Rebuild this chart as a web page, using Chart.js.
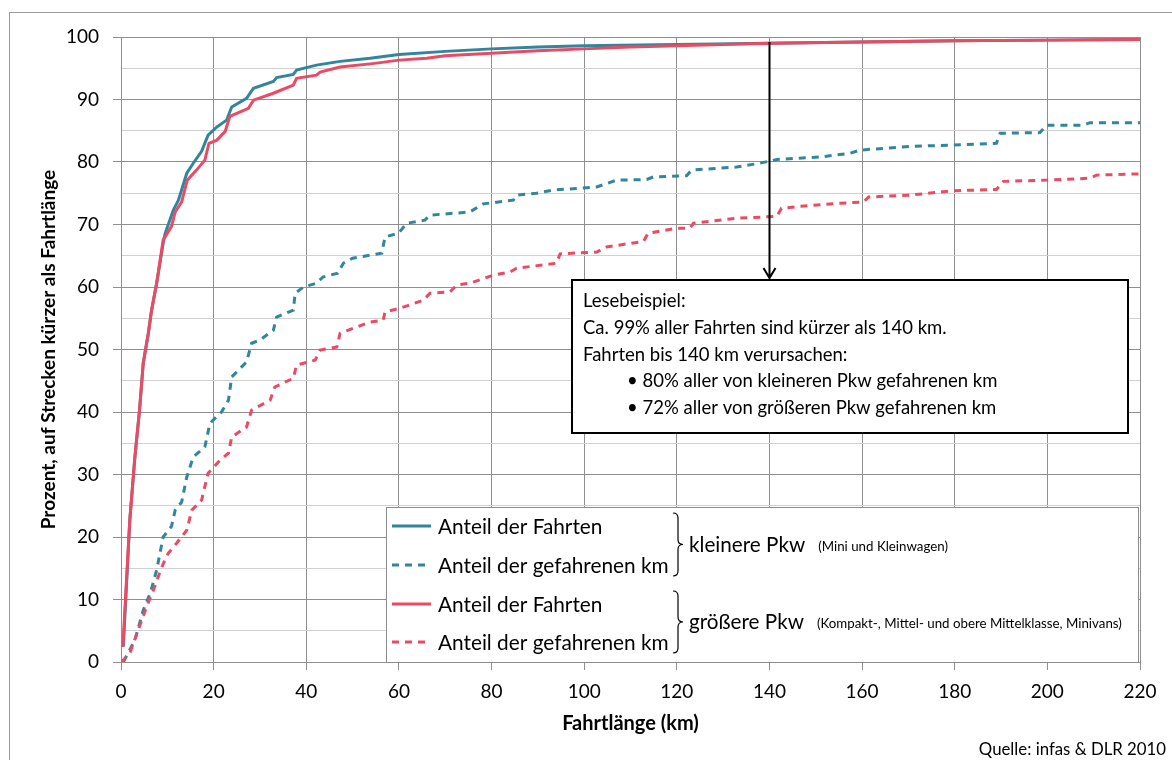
<!DOCTYPE html>
<html>
<head>
<meta charset="utf-8">
<script src="https://cdn.jsdelivr.net/npm/chart.js@4.4.0/dist/chart.umd.min.js"></script>
<style>
  body { margin: 0; background: #fff; }
  #wrap { width: 1172px; height: 760px; }
</style>
</head>
<body>
<div id="wrap"><canvas id="chart" width="1172" height="760"></canvas></div>
<script>
// Fahrtlänge (km) und kumulierter Anteil (%)
const kleinFahrtenX = [0.5, 1.9, 3.0, 4.0, 4.8, 5.9, 6.6, 7.7, 9.1, 9.5, 11.3, 12.4, 14.2, 15.6, 17.4, 18.8, 20.7, 22.8, 23.9, 27.1, 28.6, 32.9, 33.6, 37.2, 37.9, 42.2, 47.3, 53.8, 60, 70, 80, 90, 100, 120, 140, 160, 180, 200, 220];
const kleinFahrtenY = [2.5, 22.7, 32.8, 40.3, 47.8, 52.6, 56.3, 60.6, 67.0, 68.5, 72.3, 73.9, 78.2, 79.8, 81.7, 84.3, 85.6, 86.7, 88.8, 90.2, 91.8, 92.9, 93.5, 94.0, 94.7, 95.5, 96.1, 96.6, 97.2, 97.7, 98.1, 98.4, 98.6, 98.8, 99.0, 99.2, 99.4, 99.5, 99.6];

const kleinKmX = [0.5, 3, 4.8, 6.3, 7.7, 9.1, 10.9, 11.7, 13.1, 14.2, 15.6, 18.1, 19.2, 21.7, 23.2, 23.9, 27.1, 28.2, 30, 32.9, 33.6, 37.2, 37.6, 39.4, 42.2, 43.6, 46.8, 48, 50, 53.8, 56.3, 57, 59.9, 61.7, 65.6, 66.7, 75.3, 78.2, 84.7, 85.4, 89.7, 93.3, 102.7, 107, 113.5, 114.9, 122.1, 123.2, 132.9, 137.9, 141.6, 150.9, 157.4, 159.5, 170.3, 179.7, 189, 189.8, 198.4, 199.8, 207.8, 209.2, 220];
const kleinKmY = [0, 3.5, 8.3, 11, 14.7, 20, 21.7, 24.3, 25.6, 29.6, 32.8, 34.4, 38.2, 40, 41.9, 45.6, 48, 51, 51.5, 53.1, 55.2, 56.3, 59, 60, 60.6, 61.6, 62.2, 63.8, 64.6, 65.1, 65.4, 68, 68.6, 70.2, 70.7, 71.5, 72, 73.3, 73.9, 74.7, 75, 75.5, 76, 77.1, 77.2, 77.6, 77.8, 78.7, 79.2, 79.8, 80.4, 80.8, 81.4, 81.9, 82.5, 82.7, 83, 84.6, 84.7, 85.9, 85.9, 86.3, 86.3];

const grossFahrtenX = [0.4, 1.9, 3.0, 4.0, 4.8, 5.9, 6.6, 7.7, 9.1, 10.9, 11.7, 13.1, 14.3, 16.3, 18.1, 19.0, 20.7, 22.5, 23.5, 27.5, 28.6, 32.9, 37.2, 37.9, 42.2, 43.0, 47.3, 53.8, 56, 60, 66, 70, 80, 90, 100, 110, 120, 140, 160, 180, 200, 220];
const grossFahrtenY = [2.4, 22.7, 32.8, 40.3, 47.8, 52.6, 56.3, 60.6, 67.5, 69.7, 72.0, 73.6, 77.1, 78.7, 80.3, 83.0, 83.5, 84.9, 87.3, 88.6, 89.9, 91.0, 92.3, 93.4, 93.9, 94.4, 95.2, 95.7, 95.9, 96.3, 96.6, 97.0, 97.4, 97.8, 98.1, 98.4, 98.6, 99.0, 99.2, 99.4, 99.5, 99.6];

const grossKmX = [0.1, 1.9, 3.7, 5.5, 7, 8.8, 10.2, 12, 14.2, 15.3, 17.4, 18.8, 21.4, 23.2, 23.9, 27.1, 28.2, 32.2, 33.2, 37.2, 37.9, 41.9, 43, 46.6, 47.3, 53.8, 56.6, 57, 60.2, 65.3, 66.7, 71, 72.5, 75.3, 80.4, 84, 85.4, 94, 94.8, 102.7, 104.8, 112.8, 113.8, 120, 122.8, 123.6, 132.9, 141.6, 142.6, 146.6, 155.2, 160.3, 161.4, 170.3, 179.7, 189, 190.5, 199.8, 209.2, 210.6, 220];
const grossKmY = [0, 1.4, 5.1, 8.8, 11.5, 15.2, 17.4, 19, 21.1, 24.3, 25.9, 30.2, 32.3, 33.4, 36, 37.6, 40.3, 41.9, 44, 45.4, 47.5, 48.3, 49.9, 50.4, 52.6, 54.4, 54.7, 56, 56.6, 57.9, 59, 59.2, 60.3, 60.6, 61.9, 62.4, 63, 63.8, 65.3, 65.6, 66.4, 67.3, 68.6, 69.4, 69.4, 70.2, 71, 71.3, 72.6, 72.9, 73.4, 73.6, 74.4, 74.7, 75.4, 75.6, 76.9, 77.1, 77.4, 77.9, 78.1];

const seriesLabels = ["Anteil der Fahrten", "Anteil der gefahrenen km", "Anteil der Fahrten", "Anteil der gefahrenen km"];
const groupLabels = ["kleinere Pkw", "größere Pkw"];
const groupNotes = ["(Mini und Kleinwagen)", "(Kompakt-, Mittel- und obere Mittelklasse, Minivans)"];
const noteLines = [
  "Lesebeispiel:",
  "Ca. 99% aller Fahrten sind kürzer als 140 km.",
  "Fahrten bis 140 km verursachen:",
  "• 80% aller von kleineren Pkw gefahrenen km",
  "• 72% aller von größeren Pkw gefahrenen km"
];
const exampleKm = 140;
const sourceText = "Quelle: infas & DLR 2010";

const TEAL = "#31869B";
const RED = "#EC4A62";
const FONT = "Lato, 'Open Sans', sans-serif";

function zip(xs, ys) {
  return xs.map((x, i) => ({ x: x, y: ys[i] }));
}

function brace(ctx, x, y1, y2, w) {
  const ym = (y1 + y2) / 2;
  const r = 5;
  const xm = x + w / 2;
  ctx.beginPath();
  ctx.moveTo(x, y1);
  ctx.quadraticCurveTo(xm, y1, xm, y1 + r);
  ctx.lineTo(xm, ym - r);
  ctx.quadraticCurveTo(xm, ym, x + w, ym);
  ctx.quadraticCurveTo(xm, ym, xm, ym + r);
  ctx.lineTo(xm, y2 - r);
  ctx.quadraticCurveTo(xm, y2, x, y2);
  ctx.stroke();
}

const extras = {
  id: "extras",
  beforeDraw(chart) {
    const ctx = chart.ctx;
    ctx.save();
    ctx.fillStyle = "#fff";
    ctx.fillRect(0, 0, chart.width, chart.height);
    ctx.strokeStyle = "#9a9a9a";
    ctx.lineWidth = 1;
    ctx.strokeRect(9.5, 12.5, 1300, 900);
    ctx.restore();
  },
  afterDatasetsDraw(chart) {
    const ctx = chart.ctx;
    const xs = chart.scales.x, ys = chart.scales.y;
    ctx.save();

    // Pfeil bei 140 km
    const ax = Math.round(xs.getPixelForValue(exampleKm)) + 0.5;
    const ay1 = ys.getPixelForValue(99.2);
    const ay2 = 278;
    ctx.strokeStyle = "#000";
    ctx.lineWidth = 2;
    ctx.beginPath();
    ctx.moveTo(ax, ay1);
    ctx.lineTo(ax, ay2);
    ctx.moveTo(ax - 6, ay2 - 10);
    ctx.lineTo(ax, ay2);
    ctx.lineTo(ax + 6, ay2 - 10);
    ctx.stroke();

    // Lesebeispiel-Kasten
    ctx.fillStyle = "#fff";
    ctx.fillRect(572, 280, 556, 153);
    ctx.strokeRect(572, 280, 556, 153);
    ctx.fillStyle = "#000";
    ctx.font = "18.5px " + FONT;
    ctx.textBaseline = "middle";
    ctx.textAlign = "left";
    noteLines.forEach((t, i) => {
      const x = i < 3 ? 583 : 627;
      ctx.fillText(t, x, 301 + i * 26.8);
    });

    // Legende
    ctx.fillStyle = "#fff";
    ctx.fillRect(386.5, 507.5, 752, 155);
    ctx.strokeStyle = "#8c8c8c";
    ctx.lineWidth = 1;
    ctx.strokeRect(386.5, 507.5, 752, 155);
    const rows = [526, 565, 604, 642];
    chart.data.datasets.forEach(ds => {
      const y = rows[ds.row];
      ctx.strokeStyle = ds.borderColor;
      ctx.lineWidth = 3;
      ctx.setLineDash(ds.borderDash || []);
      ctx.beginPath();
      ctx.moveTo(392, y);
      ctx.lineTo(431, y);
      ctx.stroke();
      ctx.setLineDash([]);
      ctx.fillStyle = "#000";
      ctx.font = "20.8px " + FONT;
      ctx.fillText(ds.label, 438, y + 1);
    });
    ctx.strokeStyle = "#000";
    ctx.lineWidth = 1.2;
    brace(ctx, 673, 513, 576, 10);
    brace(ctx, 673, 591, 653, 10);
    [545, 622].forEach((y, i) => {
      ctx.font = "20.7px " + FONT;
      ctx.fillStyle = "#000";
      ctx.fillText(groupLabels[i], 689, y);
      const w = ctx.measureText(groupLabels[i]).width;
      ctx.font = "13.3px " + FONT;
      ctx.fillText(groupNotes[i], 689 + w + 13, y + 2);
    });

    // Quelle
    ctx.font = "16.8px " + FONT;
    ctx.textAlign = "right";
    ctx.fillText(sourceText, 1166, 750);
    ctx.restore();
  }
};

const ctx = document.getElementById("chart").getContext("2d");
new Chart(ctx, {
  type: "line",
  data: {
    datasets: [
      { label: seriesLabels[2], data: zip(grossFahrtenX, grossFahrtenY), borderColor: RED, row: 2, order: 0 },
      { label: seriesLabels[3], data: zip(grossKmX, grossKmY), borderColor: RED, borderDash: [7, 6], row: 3, order: 1 },
      { label: seriesLabels[0], data: zip(kleinFahrtenX, kleinFahrtenY), borderColor: TEAL, row: 0, order: 2 },
      { label: seriesLabels[1], data: zip(kleinKmX, kleinKmY), borderColor: TEAL, borderDash: [7, 6], row: 1, order: 3 }
    ].map(d => Object.assign({ borderWidth: 3, pointRadius: 0, tension: 0, fill: false }, d))
  },
  options: {
    responsive: false,
    animation: false,
    devicePixelRatio: 1,
    layout: { padding: { left: 33, top: 37, right: 32, bottom: 20 } },
    plugins: { legend: { display: false }, tooltip: { enabled: false } },
    scales: {
      x: {
        type: "linear",
        min: 0,
        max: 220,
        afterFit: s => { s.height = 78; },
        ticks: { stepSize: 20, color: "#000", padding: 10, font: { family: FONT, size: 19 } },
        grid: { color: "#8f8f8f", tickLength: 8, tickColor: "#8f8f8f" },
        border: { color: "#8f8f8f" },
        title: { display: true, text: "Fahrtlänge (km)", color: "#000", padding: 4, font: { family: FONT, size: 20, weight: "bold" } }
      },
      y: {
        min: 0,
        max: 100,
        afterFit: s => { s.width = 88; },
        ticks: {
          stepSize: 5,
          color: "#000",
          padding: 14,
          font: { family: FONT, size: 19 },
          callback: v => (v % 10 === 0 ? v : "")
        },
        grid: {
          color: c => (c.tick && c.tick.value % 10 !== 0 ? "#d0d0d0" : "#8f8f8f"),
          tickColor: c => (c.tick && c.tick.value % 10 !== 0 ? "rgba(0,0,0,0)" : "#8f8f8f"),
          tickLength: 8
        },
        border: { color: "#8f8f8f" },
        title: { display: true, text: "Prozent, auf Strecken kürzer als Fahrtlänge", color: "#000", padding: 4, font: { family: FONT, size: 19, weight: "bold" } }
      }
    }
  },
  plugins: [extras]
});
</script>
</body>
</html>
